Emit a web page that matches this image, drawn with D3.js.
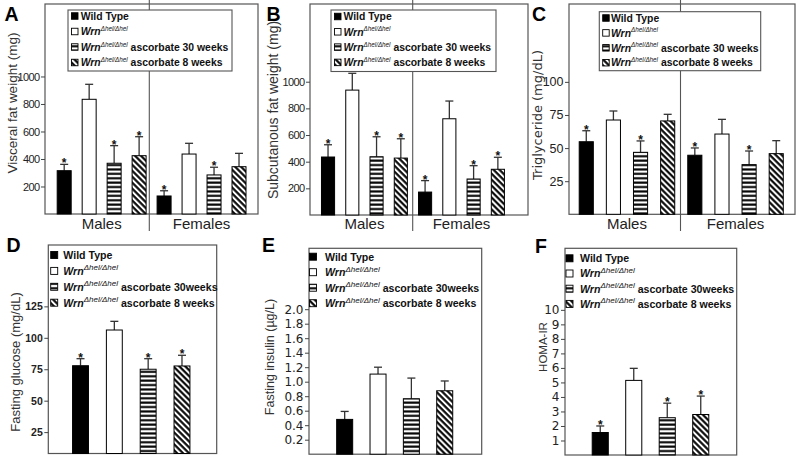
<!DOCTYPE html>
<html><head><meta charset="utf-8">
<script src="https://cdn.jsdelivr.net/npm/d3@7"></script>
<style>body{margin:0;background:#fff} svg{display:block}</style>
</head><body>
<svg id="c" width="800" height="462"></svg>
<script>
// ---------- DATA ----------
const groupNames = ["Wild Type", "Wrn Δhel/Δhel", "Wrn Δhel/Δhel ascorbate 30 weeks", "Wrn Δhel/Δhel ascorbate 8 weeks"];
const sexes = ["Males", "Females"];

// A: visceral fat weight (mg), males then females
const visceralMean = [315, 834, 369, 424, 131, 436, 284, 344];
const visceralSE   = [46, 109, 128, 138, 38, 78, 56, 97];
const visceralSig  = [1, 0, 1, 1, 1, 0, 1, 0];
// B: subcutaneous fat weight (mg)
const subcutMean = [435, 937, 437, 427, 172, 722, 270, 343];
const subcutSE   = [92, 126, 150, 145, 86, 133, 100, 90];
const subcutSig  = [1, 0, 1, 1, 1, 0, 1, 1];
// C: triglyceride (mg/dL)
const trigMean = [54.8, 71.2, 46.8, 70.5, 44.6, 60.6, 37.5, 45.8];
const trigSE   = [8.3, 6.8, 8.6, 5.0, 5.5, 11.1, 10.3, 9.8];
const trigSig  = [1, 0, 1, 0, 1, 0, 1, 0];
// D: fasting glucose (mg/dL)
const glucoseMean = [77.8, 106.2, 75.0, 77.6];
const glucoseSE   = [5.6, 6.9, 8.4, 8.5];
const glucoseSig  = [1, 0, 1, 1];
// E: fasting insulin (µg/L)
const insulinMean = [0.48, 1.105, 0.765, 0.875];
const insulinSE   = [0.11, 0.095, 0.285, 0.135];
const insulinSig  = [0, 0, 0, 0];
// F: HOMA-IR
const homaMean = [1.55, 5.14, 2.57, 2.79];
const homaSE   = [0.45, 0.83, 1.0, 1.27];
const homaSig  = [1, 0, 1, 1];

const fatTicks = [200, 400, 600, 800, 1000];
const trigTicks = [25, 50, 75, 100];
const glucoseTicks = [25, 50, 75, 100, 125];
const insulinTicks = [0.2, 0.4, 0.6, 0.8, 1.0, 1.2, 1.4, 1.6, 1.8, 2.0];
const homaTicks = [1, 2, 3, 4, 5, 6, 7, 8, 9, 10];

const legendMain = ["Wild Type", "Wrn", "Wrn", "Wrn"];
const legendSup  = ["", "Δhel/Δhel", "Δhel/Δhel", "Δhel/Δhel"];
const legendTailTop = ["", "", " ascorbate 30 weeks", " ascorbate 8 weeks"];
const legendTailBottom = ["", "", " ascorbate 30weeks", " ascorbate 8 weeks"];

// ---------- SETUP ----------
const svg = d3.select("#c");
const defs = svg.append("defs");
const hp = defs.append("pattern").attr("id", "hstripe").attr("patternUnits", "userSpaceOnUse")
  .attr("width", 6).attr("height", 4.4);
hp.append("rect").attr("width", 6).attr("height", 4.4).attr("fill", "#fff");
hp.append("rect").attr("y", 1.2).attr("width", 6).attr("height", 2.1).attr("fill", "#000");
const dp = defs.append("pattern").attr("id", "dstripe").attr("patternUnits", "userSpaceOnUse")
  .attr("width", 6).attr("height", 4.2).attr("patternTransform", "rotate(45)");
dp.append("rect").attr("width", 6).attr("height", 4.2).attr("fill", "#fff");
dp.append("rect").attr("y", 1).attr("width", 6).attr("height", 2.1).attr("fill", "#000");

const fills = ["#000", "#fff", "url(#hstripe)", "url(#dstripe)"];
const SANS = "'Liberation Sans', Arial, Helvetica, sans-serif";
const DV = "'DejaVu Sans', Verdana, sans-serif";

function drawLegend(g, L, tails) {
  if (L.boxed) {
    g.append("rect").attr("x", L.bx).attr("y", L.by).attr("width", L.bw).attr("height", L.bh)
      .attr("fill", "#fff").attr("stroke", "#555").attr("stroke-width", 1.1);
  }
  groupNames.forEach((name, i) => {
    const cy = L.y0 + i * L.step;
    g.append("rect").attr("x", L.sx).attr("y", cy - L.ss / 2).attr("width", L.ss).attr("height", L.ss)
      .attr("fill", fills[i]).attr("stroke", "#000").attr("stroke-width", 0.9);
    const t = g.append("text").attr("x", L.tx).attr("y", cy + L.fs * 0.36)
      .attr("font-family", SANS).attr("font-size", L.fs).attr("font-weight", "bold").attr("fill", "#111");
    if (i === 0) {
      t.text(legendMain[i]);
    } else {
      t.append("tspan").attr("font-style", "italic").text(legendMain[i]);
      t.append("tspan").attr("font-style", "italic").attr("font-weight", "normal")
        .attr("font-size", L.sfs).attr("dy", -L.fs * 0.4).text(legendSup[i]);
      if (tails[i]) t.append("tspan").attr("dy", L.fs * 0.4).text(tails[i]);
    }
  });
}

function drawPanel(p) {
  const g = svg.append("g");
  const n = p.mean.length;
  const x = d3.scaleBand().domain(d3.range(n)).range(p.band).paddingInner(p.pad).paddingOuter(p.pad / 2);
  const y = d3.scaleLinear().domain(p.ydom).range([p.frame[3], p.frame[1]]);
  const [L, T, R, B] = p.frame;

  // divider (drawn first so legend covers it)
  if (p.divider) {
    g.append("line").attr("x1", p.divider).attr("x2", p.divider).attr("y1", 0).attr("y2", 231)
      .attr("stroke", "#555").attr("stroke-width", 1.1);
  }
  // frame
  g.append("rect").attr("x", L).attr("y", T).attr("width", R - L).attr("height", B - T)
    .attr("fill", "none").attr("stroke", "#555").attr("stroke-width", 1.2);

  // axis
  const ax = d3.axisLeft(y).tickValues(p.ticks).tickSize(4).tickPadding(1.5).tickFormat(d3.format(p.fmt));
  const ga = g.append("g").attr("transform", `translate(${L},0)`).call(ax);
  ga.select(".domain").remove();
  ga.selectAll("line").attr("stroke", "#444").attr("stroke-width", 1);
  ga.selectAll("text").attr("font-family", p.tickFont).attr("font-size", p.tickSize)
    .attr("font-weight", p.tickBold ? "bold" : "normal").attr("fill", "#222")
    .attr("letter-spacing", p.tickLS || 0);

  // bars
  const base = y(p.ydom[0]);
  p.mean.forEach((v, i) => {
    const gi = i % 4;
    const bx = x(i), bw = x.bandwidth(), cx = bx + bw / 2;
    const top = y(v + p.se[i]);
    g.append("line").attr("x1", cx).attr("x2", cx).attr("y1", y(v)).attr("y2", top)
      .attr("stroke", "#333").attr("stroke-width", 1.3);
    g.append("line").attr("x1", cx - 4).attr("x2", cx + 4).attr("y1", top).attr("y2", top)
      .attr("stroke", "#333").attr("stroke-width", 1.3);
    g.append("rect").attr("x", bx).attr("y", y(v)).attr("width", bw).attr("height", base - y(v))
      .attr("fill", fills[gi]).attr("stroke", "#000").attr("stroke-width", 1);
    if (p.sig[i]) {
      g.append("text").attr("x", cx).attr("y", top + 3).attr("text-anchor", "middle")
        .attr("font-family", SANS).attr("font-size", 12).attr("font-weight", "bold").attr("fill", "#111")
        .text("*");
    }
  });

  // category labels
  if (p.cats) {
    sexes.forEach((s, k) => {
      const c = (x(k * 4) + x(k * 4 + 3) + x.bandwidth()) / 2;
      g.append("text").attr("x", c).attr("y", 229).attr("text-anchor", "middle")
        .attr("font-family", SANS).attr("font-size", 15).attr("fill", "#222").text(s);
    });
  }

  // legend
  drawLegend(g, p.legend, p.legend.boxed ? legendTailTop : legendTailBottom);

  // axis title
  g.append("text").attr("transform", `translate(${p.title[1]},${p.title[2]}) rotate(-90)`)
    .attr("text-anchor", "middle").attr("dominant-baseline", "central")
    .attr("font-family", p.titleFont).attr("font-size", p.title[3]).attr("fill", "#333").text(p.title[0]);

  // panel letter
  g.append("text").attr("x", p.letter[1]).attr("y", p.letter[2]).attr("font-family", SANS)
    .attr("font-size", 19.5).attr("font-weight", "bold").attr("fill", "#000").text(p.letter[0]);
}

const panels = [
  { letter: ["A", 4.5, 20.5], mean: visceralMean, se: visceralSE, sig: visceralSig, ticks: fatTicks, fmt: "d",
    frame: [45, 4, 258, 214], band: [51.7, 251.5], pad: 0.44, ydom: [0, 1527], divider: 149.3, cats: true,
    tickFont: SANS, tickSize: 11, tickLS: -0.6, titleFont: SANS,
    title: ["Visceral fat weight (mg)", 12, 103, 13.5],
    legend: { boxed: true, bx: 68, by: 10, bw: 164, bh: 61, sx: 71.5, ss: 6.5, tx: 80.7, y0: 16, step: 15.5, fs: 10.4, sfs: 6.3 } },
  { letter: ["B", 266.5, 20.5], mean: subcutMean, se: subcutSE, sig: subcutSig, ticks: fatTicks, fmt: "d",
    frame: [310, 4, 528, 215], band: [315.9, 510], pad: 0.46, ydom: [0, 1583], divider: 412.7, cats: true,
    tickFont: SANS, tickSize: 11, tickLS: -0.6, titleFont: SANS,
    title: ["Subcutanous fat weight (mg)", 273, 110, 14],
    legend: { boxed: true, bx: 331, by: 10, bw: 165, bh: 61.5, sx: 334.5, ss: 6.5, tx: 343.5, y0: 16.5, step: 15.3, fs: 10.4, sfs: 6.3 } },
  { letter: ["C", 532, 20.5], mean: trigMean, se: trigSE, sig: trigSig, ticks: trigTicks, fmt: "d",
    frame: [569, 4, 795, 214.3], band: [572.7, 789.8], pad: 0.48, ydom: [0, 158.8], divider: 680.5, cats: true,
    tickFont: SANS, tickSize: 12.5, titleFont: DV,
    title: ["Triglyceride (mg/dL)", 537, 115, 13],
    legend: { boxed: true, bx: 599.3, by: 11.7, bw: 161.4, bh: 59, sx: 602.7, ss: 6.5, tx: 611, y0: 18, step: 14.9, fs: 10.4, sfs: 6.3 } },
  { letter: ["D", 6.5, 251.5], mean: glucoseMean, se: glucoseSE, sig: glucoseSig, ticks: glucoseTicks, fmt: "d",
    frame: [48.3, 245, 216.7, 453.5], band: [63.6, 198.9], pad: 0.53, ydom: [8, 173.8], cats: false,
    tickFont: SANS, tickSize: 10.5, tickBold: true, titleFont: SANS,
    title: ["Fasting glucose (mg/dL)", 15, 362, 13],
    legend: { boxed: false, sx: 50.7, ss: 7, tx: 63.3, y0: 255, step: 15.9, fs: 10.6, sfs: 8 } },
  { letter: ["E", 262, 252], mean: insulinMean, se: insulinSE, sig: insulinSig, ticks: insulinTicks, fmt: ".1f",
    frame: [309, 248.3, 481.7, 454.2], band: [328, 461.4], pad: 0.52, ydom: [0, 2.84], cats: false,
    tickFont: DV, tickSize: 12, titleFont: SANS,
    title: ["Fasting insulin (µg/L)", 270, 357, 12.5],
    legend: { boxed: false, sx: 309.5, ss: 7, tx: 325, y0: 256.7, step: 15.5, fs: 10.6, sfs: 8 } },
  { letter: ["F", 535, 253], mean: homaMean, se: homaSE, sig: homaSig, ticks: homaTicks, fmt: "d",
    frame: [565, 248.3, 736.7, 455], band: [583.5, 717.5], pad: 0.52, ydom: [0, 14.24], cats: false,
    tickFont: DV, tickSize: 12, titleFont: SANS,
    title: ["HOMA-IR", 543, 347, 11.5],
    legend: { boxed: false, sx: 566, ss: 7, tx: 580, y0: 258.3, step: 15.2, fs: 10.6, sfs: 8 } }
];

panels.forEach(drawPanel);
</script>
</body></html>
